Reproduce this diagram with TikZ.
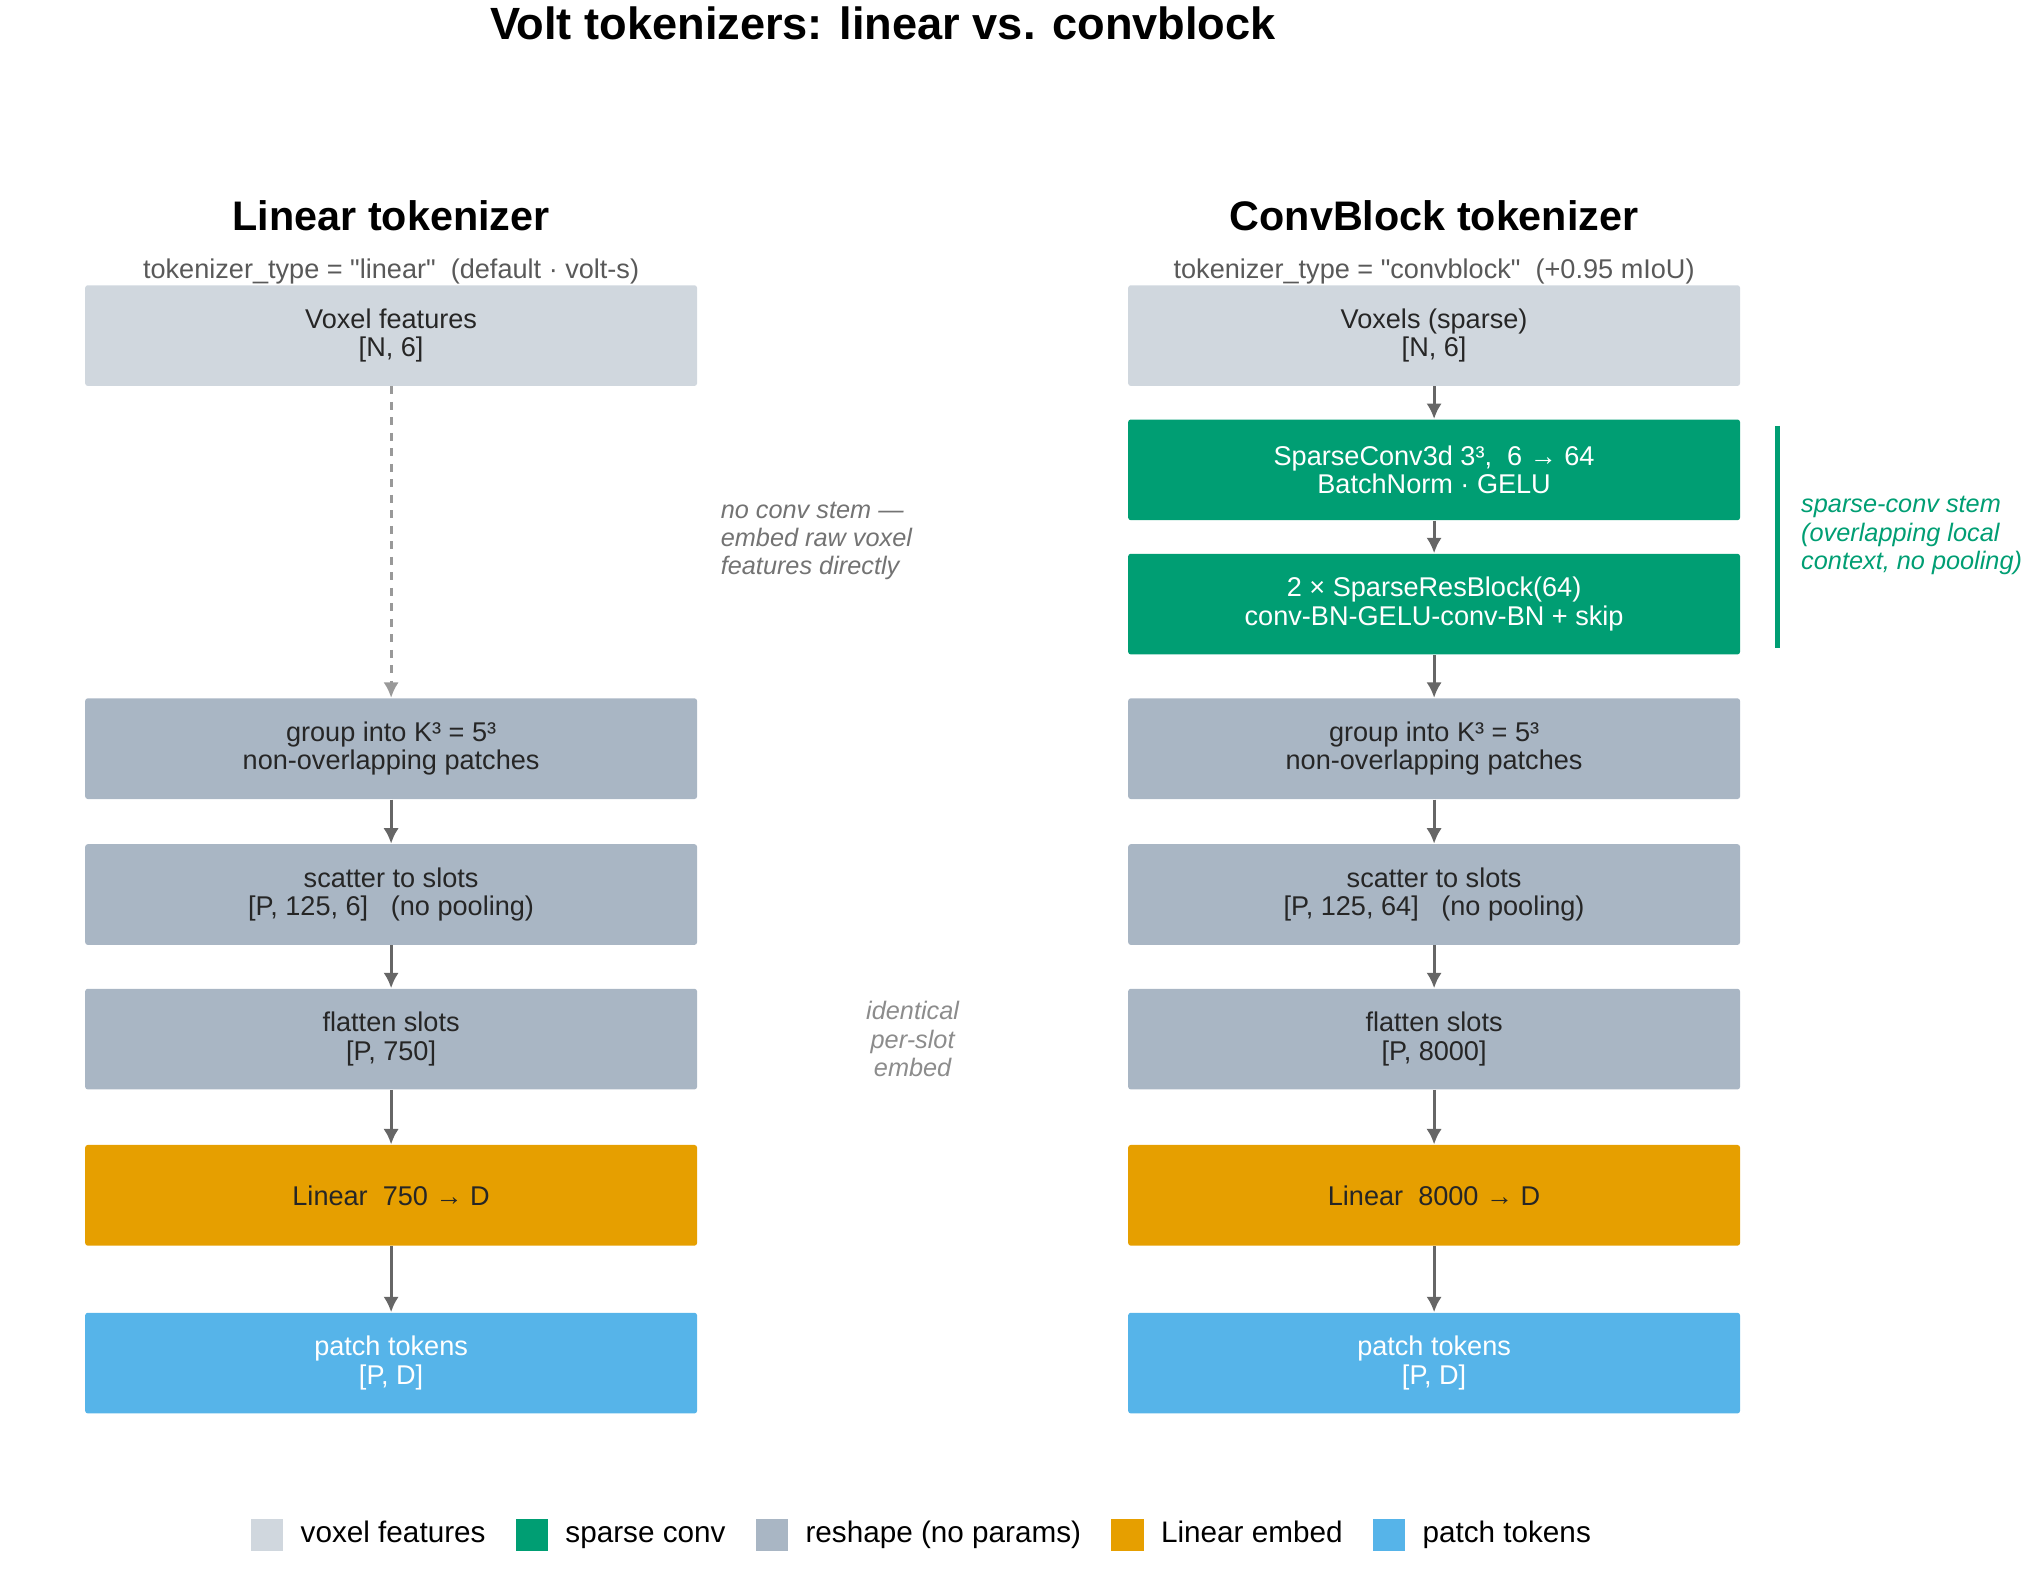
\documentclass[tikz,border=0pt]{standalone}
\usepackage{fontspec}
\setmainfont{Liberation Sans}
\usetikzlibrary{positioning}
\definecolor{vox}{HTML}{D0D7DE}
\definecolor{conv}{HTML}{009E73}
\definecolor{resh}{HTML}{A9B6C4}
\definecolor{lin}{HTML}{E69F00}
\definecolor{tok}{HTML}{56B4E9}
\definecolor{arr}{HTML}{666666}
\tikzset{
  blk/.style={rounded corners=1pt, minimum width=237pt, minimum height=39pt,
    align=center, font=\fontsize{10.5}{11}\selectfont, text=black!85},
  flow/.style={draw=arr, line width=1.2pt, -{Latex[length=6pt,width=6pt]}},
  note/.style={font=\fontsize{9.8}{11}\selectfont\itshape, align=left},
  key/.style={minimum size=12.5pt, inner sep=0pt},
  keytxt/.style={font=\fontsize{11.5}{12}\selectfont, text height=8.5pt, text depth=2.5pt}
}
\usetikzlibrary{arrows.meta}
\begin{document}
\begin{tikzpicture}[x=0.5pt, y=-0.5pt]
\useasboundingbox (0,0) rectangle (1568,1215);
\node[font=\fontsize{17.5}{20}\selectfont\bfseries] at (684,18) {Volt tokenizers: linear vs. convblock};
% linear column
\node[font=\fontsize{16}{18}\selectfont\bfseries] at (303,167) {Linear tokenizer};
\node[font=\fontsize{10.5}{12}\selectfont, text=black!65] at (303,210) {tokenizer\_type = \textquotedbl linear\textquotedbl\ \ (default · volt-s)};
\node[blk, fill=vox] (la) at (303,260) {Voxel features\\{}[N, 6]};
\node[blk, fill=resh] (lb) at (303,580) {group into K³ = 5³\\non-overlapping patches};
\node[blk, fill=resh] (lc) at (303,693) {scatter to slots\\{}[P, 125, 6]\ \ \ (no pooling)};
\node[blk, fill=resh] (ld) at (303,805) {flatten slots\\{}[P, 750]};
\node[blk, fill=lin] (le) at (303,926) {Linear\ \ 750 → D};
\node[blk, fill=tok, text=white] (lf) at (303,1056) {patch tokens\\{}[P, D]};
\draw[flow, draw=black!40, dashed] (la) -- (lb);
\draw[flow] (lb) -- (lc);
\draw[flow] (lc) -- (ld);
\draw[flow] (ld) -- (le);
\draw[flow] (le) -- (lf);
% convblock column
\node[font=\fontsize{16}{18}\selectfont\bfseries] at (1111,167) {ConvBlock tokenizer};
\node[font=\fontsize{10.5}{12}\selectfont, text=black!65] at (1111,210) {tokenizer\_type = \textquotedbl convblock\textquotedbl\ \ (+0.95 mIoU)};
\node[blk, fill=vox] (ra) at (1111,260) {Voxels (sparse)\\{}[N, 6]};
\node[blk, fill=conv, text=white] (rs) at (1111,364) {SparseConv3d 3³,\ \ 6 → 64\\BatchNorm · GELU};
\node[blk, fill=conv, text=white] (rr) at (1111,468) {2 × SparseResBlock(64)\\conv-BN-GELU-conv-BN + skip};
\node[blk, fill=resh] (rb) at (1111,580) {group into K³ = 5³\\non-overlapping patches};
\node[blk, fill=resh] (rc) at (1111,693) {scatter to slots\\{}[P, 125, 64]\ \ \ (no pooling)};
\node[blk, fill=resh] (rd) at (1111,805) {flatten slots\\{}[P, 8000]};
\node[blk, fill=lin] (re) at (1111,926) {Linear\ \ 8000 → D};
\node[blk, fill=tok, text=white] (rf) at (1111,1056) {patch tokens\\{}[P, D]};
\draw[flow] (ra) -- (rs);
\draw[flow] (rs) -- (rr);
\draw[flow] (rr) -- (rb);
\draw[flow] (rb) -- (rc);
\draw[flow] (rc) -- (rd);
\draw[flow] (rd) -- (re);
\draw[flow] (re) -- (rf);
% notes
\draw[conv, line width=2pt] (1377,330) -- (1377,502);
\node[note, text=conv, anchor=west, inner sep=0pt] at (1395,415) {sparse-conv stem\\(overlapping local\\context, no pooling)};
\node[note, text=black!55, anchor=west, inner sep=0pt] at (558,419) {no conv stem —\\embed raw voxel\\features directly};
\node[note, text=black!45, align=center] at (707,805) {identical\\per-slot\\embed};
% legend
\node[key, fill=vox] (k1) at (207,1189) {};
\node[keytxt, right=3pt of k1] (t1) {voxel features};
\node[key, fill=conv, right=8pt of t1] (k2) {};
\node[keytxt, right=3pt of k2] (t2) {sparse conv};
\node[key, fill=resh, right=8pt of t2] (k3) {};
\node[keytxt, right=3pt of k3] (t3) {reshape (no params)};
\node[key, fill=lin, right=8pt of t3] (k4) {};
\node[keytxt, right=3pt of k4] (t4) {Linear embed};
\node[key, fill=tok, right=8pt of t4] (k5) {};
\node[keytxt, right=3pt of k5] (t5) {patch tokens};
\end{tikzpicture}
\end{document}
